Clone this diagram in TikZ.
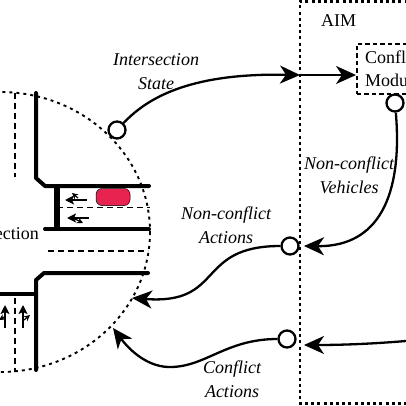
\documentclass[tikz,border=0pt]{standalone}
\usepackage{fontspec}
\setmainfont{Liberation Serif}
\usetikzlibrary{arrows.meta}
\definecolor{carred}{HTML}{E8234F}
\tikzset{
  road/.style={line width=4pt,line cap=round,line join=round},
  lane/.style={line width=1.5pt,dash pattern=on 6pt off 4pt},
  flow/.style={line width=2.3pt,-{Stealth[length=20pt,width=18pt,inset=6pt]}},
  port/.style={circle,draw,line width=2.3pt,fill=white,minimum size=17pt,inner sep=0pt},
  lab/.style={font=\fontsize{18}{24}\selectfont\itshape,align=center,inner sep=0pt},
  txt/.style={font=\fontsize{18}{24}\selectfont,inner sep=0pt},
  small/.style={line width=1.5pt,-{Stealth[length=9pt,width=9pt,inset=2pt]}},
  tiny/.style={line width=1.2pt,-{Stealth[length=6pt,width=6pt]}},
}
\begin{document}
\begin{tikzpicture}[x=1pt,y=-1pt]
\useasboundingbox (0,0) rectangle (406,406);
\clip (0,0) rectangle (406,406);
% intersection boundary
\draw[line width=1.9pt,dash pattern=on 3pt off 4pt] (0,232) ellipse [x radius=150,y radius=140];
% lanes
\draw[lane] (15,93) -- (15,177);
\draw[lane] (15,298) -- (15,372);
\draw[lane] (57,207.5) -- (150,207.5);
\draw[lane] (48,251) -- (148,251);
% roads
\draw[road] (36,93) -- (36,178) -- (45,186) -- (149,186);
\draw[road] (45,229) -- (149,229);
\draw[line width=6pt] (57,186) -- (57,229);
\draw[road] (148,273) -- (44,273) -- (36,280) -- (36,370);
\draw[road] (0,294) -- (36,294);
% car
\node[draw=black,line width=.5pt,fill=carred,rounded corners=6pt,minimum width=34pt,minimum height=17pt,inner sep=0pt] (car) at (113,197) {};
% small lane arrows
\coordinate (a1s) at (87,200); \coordinate (a1e) at (65,200);
\coordinate (a2s) at (89,218); \coordinate (a2e) at (67,218);
\draw[small] (a1s) -- (a1e);
\draw[small] (a2s) -- (a2e);
\draw[tiny] (78,198) -- (72,193);
\draw[tiny] (75,219) -- (83,223);
\coordinate (b1s) at (5,328); \coordinate (b1e) at (5,305);
\coordinate (b2s) at (23,328); \coordinate (b2e) at (23,305);
\draw[small] (b1s) -- (b1e);
\draw[small] (b2s) -- (b2e);
\draw[tiny] (4,317) -- (-1,320);
\draw[tiny] (24,320) -- (30,315);
% AIM box
\draw[line width=2.8pt,dash pattern=on 3pt off 3.2pt] (420,1.5) -- (300,1.5) -- (300,403.5) -- (420,403.5);
\node[draw,line width=1.5pt,dash pattern=on 4.5pt off 3pt,minimum width=64pt,minimum height=50pt,inner sep=0pt,anchor=west] (mod) at (356,69) {};
% coordinates on the boundaries
\coordinate (edgeIn) at (300,75);
\coordinate (tipNC) at (132,298);
\coordinate (tipC) at (113,328);
\coordinate (edgeNC) at (304,246);
\coordinate (edgeC) at (304,345);
\coordinate (rightC) at (406,341);
% ports
\node[port] (pState) at (117,130) {};
\node[port] (pMod) at (395,103) {};
\node[port] (pNC) at (290,246) {};
\node[port] (pC) at (287,339) {};
% connectors
\draw[flow] (pState) .. controls (150,95) and (195,73) .. (edgeIn);
\draw[flow] (edgeIn) -- (mod.west |- edgeIn);
\draw[flow] (pMod) .. controls (402,185) and (385,247) .. (edgeNC);
\draw[flow] (pNC) .. controls (195,246) and (225,305) .. (tipNC);
\draw[flow] (rightC) .. controls (370,344) and (340,345) .. (edgeC);
\draw[flow] (pC) .. controls (225,339) and (205,368) .. (168,367) .. controls (145,366) and (128,348) .. (tipC);
% labels
\node[lab] (l1) at (156,72) {Intersection\\State};
\node[lab] (l2) at (349,175) {Non-conflict\\Vehicles};
\node[lab] (l3) at (226,225) {Non-conflict\\Actions};
\node[lab] (l4) at (232,379) {Conflict\\Actions};
\node[txt,anchor=base west] (aim) at (321,27) {AIM};
\node[txt,anchor=base west] (m1) at (365,64) {Confl};
\node[txt,anchor=base west] (m2) at (365,87) {Modu};
\node[txt,anchor=base east] (isec) at (39,239) {ection};
\end{tikzpicture}
\end{document}
